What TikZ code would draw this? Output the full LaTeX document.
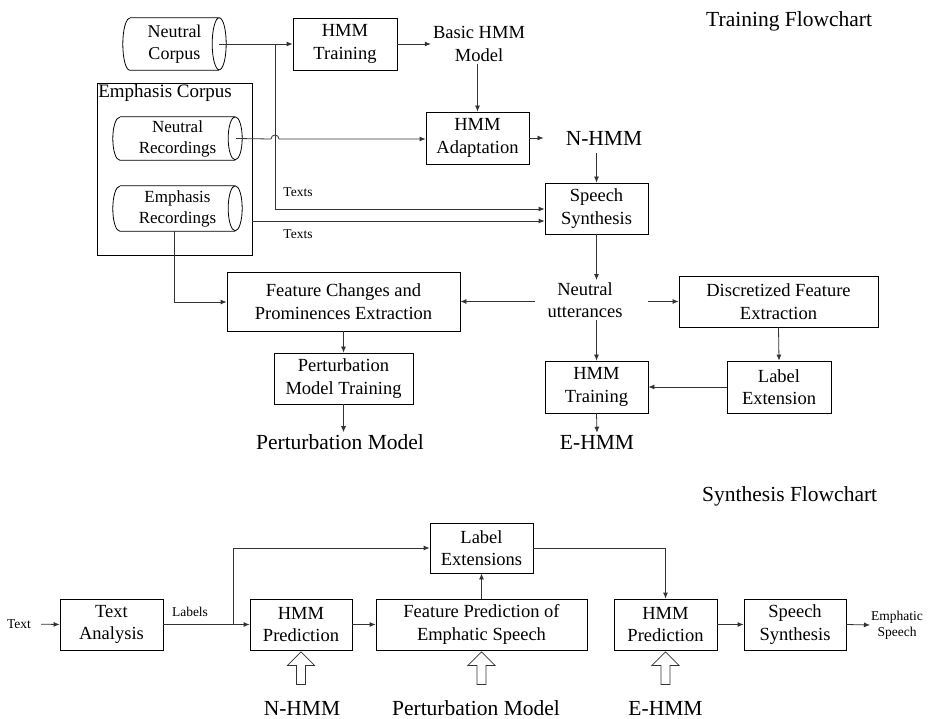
\documentclass[tikz,border=0pt]{standalone}
\usepackage{fontspec}
\setmainfont{Liberation Serif}
\usetikzlibrary{arrows.meta,calc}
\newcommand\fsz[2]{\fontsize{#1}{#2}\selectfont}
\newcommand\drumoutline[2]{%
  \draw[line width=0.8pt] ([xshift=7]#1.north west) -- ([xshift=-7]#1.north east)
     arc[start angle=90,end angle=-270,x radius=7pt,y radius=#2];
  \draw[line width=0.8pt] ([xshift=-7]#1.south east) -- ([xshift=7]#1.south west)
     arc[start angle=270,end angle=90,x radius=7pt,y radius=#2];}
\begin{document}
\begin{tikzpicture}[x=1pt,y=-1pt,
  box/.style={draw,line width=0.8pt,align=center,inner sep=0pt,font=\fsz{18.5}{22.5}},
  drumtxt/.style={align=center,inner sep=0pt,font=\fsz{18}{22}},
  plain/.style={align=center,inner sep=2pt,font=\fsz{18.5}{22.5}},
  big/.style={align=center,inner sep=2pt,font=\fsz{21.5}{24}},
  small/.style={align=center,inner sep=1pt,font=\fsz{13.5}{16}},
  arr/.style={-{Latex[length=6pt,width=5pt]},line width=0.8pt,black!80},
  hollow/.style={line width=0.8pt,black!80}]
\useasboundingbox (0,0) rectangle (935,719);

% ---------- Training ----------
\node[big,anchor=west] (ttl) at (704,21) {Training Flowchart};

\node[drumtxt,minimum width=103,minimum height=52] (nc) at (174.5,44) {Neutral\\Corpus};
\drumoutline{nc}{26pt}
\node[box,minimum width=104,minimum height=52] (hmmt) at (345,44) {HMM\\Training};
\node[plain] (basic) at (479,44) {Basic HMM\\Model};

\node[draw,line width=0.8pt,minimum width=155,minimum height=172,inner sep=0pt] (ec) at (174.5,169) {};
\node[anchor=north west,inner sep=1.5pt,font=\fsz{19}{22}] (ecl) at (ec.north west) {Emphasis Corpus};
\node[drumtxt,font=\fsz{17}{21},minimum width=129,minimum height=43] (nr) at (177.5,138.5) {Neutral\\Recordings};
\drumoutline{nr}{21.5pt}
\node[drumtxt,font=\fsz{17}{21},minimum width=129,minimum height=45] (er) at (177.5,208.5) {Emphasis\\Recordings};
\drumoutline{er}{22.5pt}

\node[box,minimum width=103,minimum height=52] (hmma) at (477.5,138) {HMM\\Adaptation};
\node[big] (nhmm) at (604,138) {N-HMM};
\node[box,minimum width=103,minimum height=51] (ss1) at (596.5,208.5) {Speech\\Synthesis};
\node[small] (tx1) at (298,192) {Texts};
\node[small] (tx2) at (298,234) {Texts};

\node[box,minimum width=233,minimum height=59] (fc) at (343.5,301.5) {Feature Changes and\\Prominences Extraction};
\node[plain] (nu) at (585,300) {Neutral\\utterances};
\node[box,minimum width=199,minimum height=51] (dfe) at (778.5,301.5) {Discretized Feature\\Extraction};
\node[box,minimum width=139,minimum height=51] (pmt) at (343.5,378.5) {Perturbation\\Model Training};
\node[box,minimum width=103,minimum height=52] (ht2) at (596.5,387) {HMM\\Training};
\node[box,minimum width=104,minimum height=52] (le) at (779,387) {Label\\Extension};
\node[big] (pm) at (340,442) {Perturbation Model};
\node[big] (ehmm) at (597,442) {E-HMM};

% connectors (training)
\coordinate (j1) at (275,44);
\coordinate (t1) at (275,209);
\draw[arr] ([xshift=-7]nc.east) -- (hmmt.west);
\draw[arr] (j1) -- (t1) -- (t1 -| ss1.west);
\draw[arr] (ec.east |- 0,221) -- (ss1.west |- 0,221);
\draw[arr] (hmmt.east) -- (basic.west);
\draw[arr] (hmma.north |- basic.south) -- (hmma.north);
\draw[arr] ([xshift=-6]nr.east) -- (271,139) arc[start angle=180,end angle=0,radius=4pt] -- (hmma.west |- 0,139);
\draw[arr,shorten >=20pt] (hmma.east) -- (nhmm.west);
\draw[arr,shorten <=6pt] (ss1.north |- nhmm.south) -- (ss1.north);
\draw[arr] (ss1.south) -- (ss1.south |- nu.north);
\draw[arr,shorten <=10pt] (nu.west |- fc.east) -- (fc.east);
\draw[arr] (ss1.east |- dfe.west) -- (dfe.west);
\draw[arr] (ht2.north |- nu.south) -- (ht2.north);
\draw[arr] (er.south -| 174,0) -- (174,302) -- (fc.west |- 0,302);
\draw[arr] (fc.south) -- (pmt.north);
\draw[arr] (pmt.south) -- (pmt.south |- pm.north);
\draw[arr] (dfe.south) -- (le.north);
\draw[arr] (le.west) -- (ht2.east);
\draw[arr] (ht2.south) -- (ehmm.north);

% ---------- Synthesis ----------
\node[big,anchor=west] (stl) at (700,496) {Synthesis Flowchart};
\node[small] (txt) at (19,624) {Text};
\node[box,minimum width=103,minimum height=51] (ta) at (111.5,624.5) {Text\\Analysis};
\node[small] (lbl) at (190,612) {Labels};
\node[box,minimum width=102,minimum height=51] (hp1) at (301,624.5) {HMM\\Prediction};
\node[box,minimum width=211,minimum height=51] (fp) at (481.5,624.5) {Feature Prediction of\\Emphatic Speech};
\node[box,minimum width=103,minimum height=50] (lex) at (481.5,548) {Label\\Extensions};
\node[box,minimum width=103,minimum height=51] (hp2) at (665.5,624.5) {HMM\\Prediction};
\node[box,minimum width=102,minimum height=51] (ss2) at (795,624.5) {Speech\\Synthesis};
\node[small,anchor=west] (es) at (870,625) {Emphatic\\Speech};
\node[big] (n2) at (302,708) {N-HMM};
\node[big] (p2) at (476,708) {Perturbation Model};
\node[big] (e2) at (665.5,708) {E-HMM};

\coordinate (b1) at (233,624);
\draw[arr,shorten <=9pt] (txt.east) -- (ta.west);
\draw[arr] (ta.east) -- (hp1.west);
\draw[arr] (b1) |- (lex.west);
\draw[arr] (hp1.east) -- (fp.west);
\draw[arr] (fp.north) -- (lex.south);
\draw[arr] (lex.east) -| (hp2.north);
\draw[arr] (hp2.east) -- (ss2.west);
\draw[arr] (ss2.east) -- (es.west);

\foreach \n in {hp1,fp,hp2}{
  \draw[hollow] ($(\n.south)+(-4.5,34)$) -- ++(0,-19) -- ++(-9,0) -- ++(13.5,-13.5) -- ++(13.5,13.5) -- ++(-9,0) -- ++(0,19) -- cycle;
}
\end{tikzpicture}
\end{document}
